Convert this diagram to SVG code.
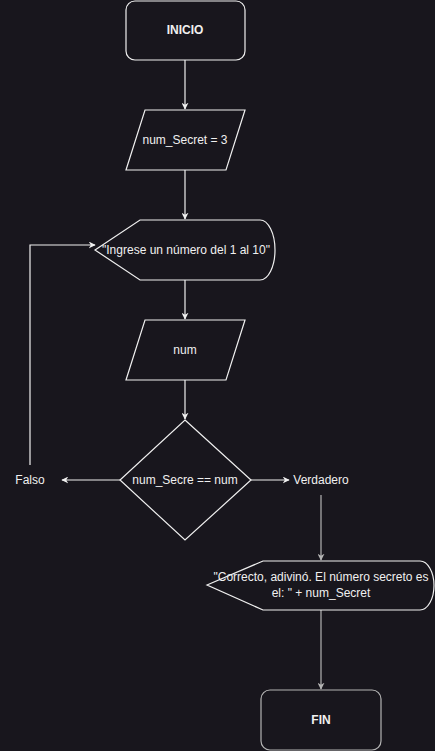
<svg xmlns="http://www.w3.org/2000/svg" width="435" height="751" viewBox="0 0 435 751">
<defs>
<style>
.shape{fill:#18161d;stroke:#f0f0f0;stroke-width:1.2}
.shape.dim{stroke:#b4b4b4}
.edge{fill:none;stroke:#f0f0f0;stroke-width:1.2}
.edge.dim{stroke:#b4b4b4}
text{font-family:"Liberation Sans",Arial,sans-serif;font-size:12px;fill:#f0f0f0;text-anchor:middle;dominant-baseline:central}
.b{font-weight:bold}
</style>
<marker id="ah" viewBox="0 0 10 10" refX="9" refY="5" markerWidth="7" markerHeight="7" markerUnits="userSpaceOnUse" orient="auto">
<path d="M0,0 L10,5 L0,10 L3,5 Z" fill="#f0f0f0"/>
</marker>
<marker id="ahd" viewBox="0 0 10 10" refX="9" refY="5" markerWidth="7" markerHeight="7" markerUnits="userSpaceOnUse" orient="auto">
<path d="M0,0 L10,5 L0,10 L3,5 Z" fill="#b4b4b4"/>
</marker>
</defs>
<rect width="435" height="751" fill="#18161d"/>
<g id="connectors">
<path class="edge" d="M185,60 L185,109" marker-end="url(#ah)"/>
<path class="edge" d="M185,170 L185,219" marker-end="url(#ah)"/>
<path class="edge" d="M185,280 L185,319" marker-end="url(#ah)"/>
<path class="edge" d="M185,380 L185,419" marker-end="url(#ah)"/>
<path class="edge" d="M120,480 L62,480" marker-end="url(#ah)"/>
<path class="edge" d="M251,480 L289,480" marker-end="url(#ah)"/>
<path class="edge" d="M30,465 L30,245 L95,245" marker-end="url(#ah)"/>
<path class="edge dim" d="M321,495 L321,560" marker-end="url(#ahd)"/>
<path class="edge dim" d="M321,610 L321,689" marker-end="url(#ahd)"/>
</g>
<g id="inicio">
<rect class="shape" x="126" y="1" width="119" height="59" rx="9"/>
<text class="b" x="185" y="30">INICIO</text>
</g>
<g id="num_secret">
<path class="shape" d="M145,110 L245,110 L226,170 L126,170 Z"/>
<text x="185" y="140">num_Secret = 3</text>
</g>
<g id="display_ingrese">
<path class="shape" d="M95,250 L140,220 L260,220 A15,30 0 0 1 260,280 L140,280 Z"/>
<text x="186" y="250">"Ingrese un número del 1 al 10"</text>
</g>
<g id="input_num">
<path class="shape" d="M145,320 L245,320 L226,380 L126,380 Z"/>
<text x="185" y="350">num</text>
</g>
<g id="decision">
<path class="shape" d="M185,420 L251,480 L185,540 L120,480 Z"/>
<text x="185" y="480">num_Secre == num</text>
</g>
<g id="falso">
<text x="30" y="480">Falso</text>
</g>
<g id="verdadero">
<text x="321" y="480">Verdadero</text>
</g>
<g id="display_correcto">
<path class="shape" d="M207,585 L263,561 L420,561 A14,24.5 0 0 1 420,610 L263,610 Z"/>
<text x="321" y="577">"Correcto, adivinó. El número secreto es</text>
<text x="321" y="593">el: " + num_Secret</text>
</g>
<g id="fin">
<rect class="shape dim" x="261" y="690" width="120" height="60" rx="9"/>
<text class="b" x="321" y="720">FIN</text>
</g>
</svg>
